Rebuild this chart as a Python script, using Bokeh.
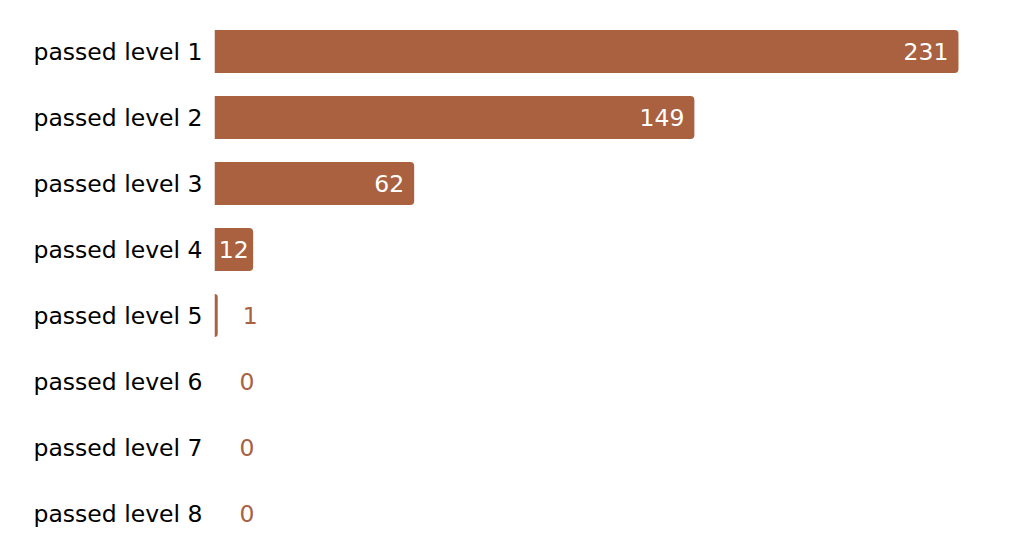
from bokeh.plotting import figure
from bokeh.models import ColumnDataSource, Range1d, FactorRange
from bokeh.embed import file_html
from bokeh.resources import INLINE
from bokeh.core.properties import value

categories = ["passed level 1", "passed level 2", "passed level 3", "passed level 4",
              "passed level 5", "passed level 6", "passed level 7", "passed level 8"]
counts = [231, 149, 62, 12, 1, 0, 0, 0]

BAR = "#A9613F"
FONT = "DejaVu Sans"
FS = "23.5px"

p = figure(width=1024, height=550, output_backend="svg", toolbar_location=None,
           y_range=FactorRange(factors=list(reversed(categories))),
           x_range=Range1d(0, 251.5),
           min_border_left=214, min_border_right=0, min_border_top=18, min_border_bottom=4)

src = ColumnDataSource(dict(cat=categories, val=counts))
p.hbar(y="cat", left=0, right="val", height=0.65, source=src,
       fill_color=BAR, line_color=None, border_radius=(0, 4, 4, 0))

# value labels
in_x, in_y, in_t, in_al = [], [], [], []
out_x, out_y, out_t = [], [], []
for c, v in zip(categories, counts):
    if v >= 20:
        in_x.append(v - 10 / 3.22); in_y.append(c); in_t.append(str(v)); in_al.append("right")
    elif v >= 5:
        in_x.append(v / 2); in_y.append(c); in_t.append(str(v)); in_al.append("center")
    else:
        out_x.append(v + 25 / 3.22); out_y.append(c); out_t.append(str(v))

p.text(x="x", y="y", text="t", text_align="al", source=ColumnDataSource(dict(x=in_x, y=in_y, t=in_t, al=in_al)),
       text_baseline="middle", text_color="white", text_font=value(FONT), text_font_size=FS)
p.text(x="x", y="y", text="t", source=ColumnDataSource(dict(x=out_x, y=out_y, t=out_t)),
       text_align="left", text_baseline="middle", text_color=BAR, text_font=value(FONT), text_font_size=FS)

p.xaxis.visible = False
p.yaxis.axis_line_color = None
p.yaxis.major_tick_line_color = None
p.yaxis.minor_tick_line_color = None
p.yaxis.major_tick_in = 0
p.yaxis.major_tick_out = 0
p.yaxis.major_label_standoff = 12
p.yaxis.major_label_text_font = FONT
p.yaxis.major_label_text_font_size = FS
p.yaxis.major_label_text_color = "black"
p.xgrid.visible = False
p.ygrid.visible = False
p.outline_line_color = None

open("out.html", "w").write(file_html(p, INLINE))
